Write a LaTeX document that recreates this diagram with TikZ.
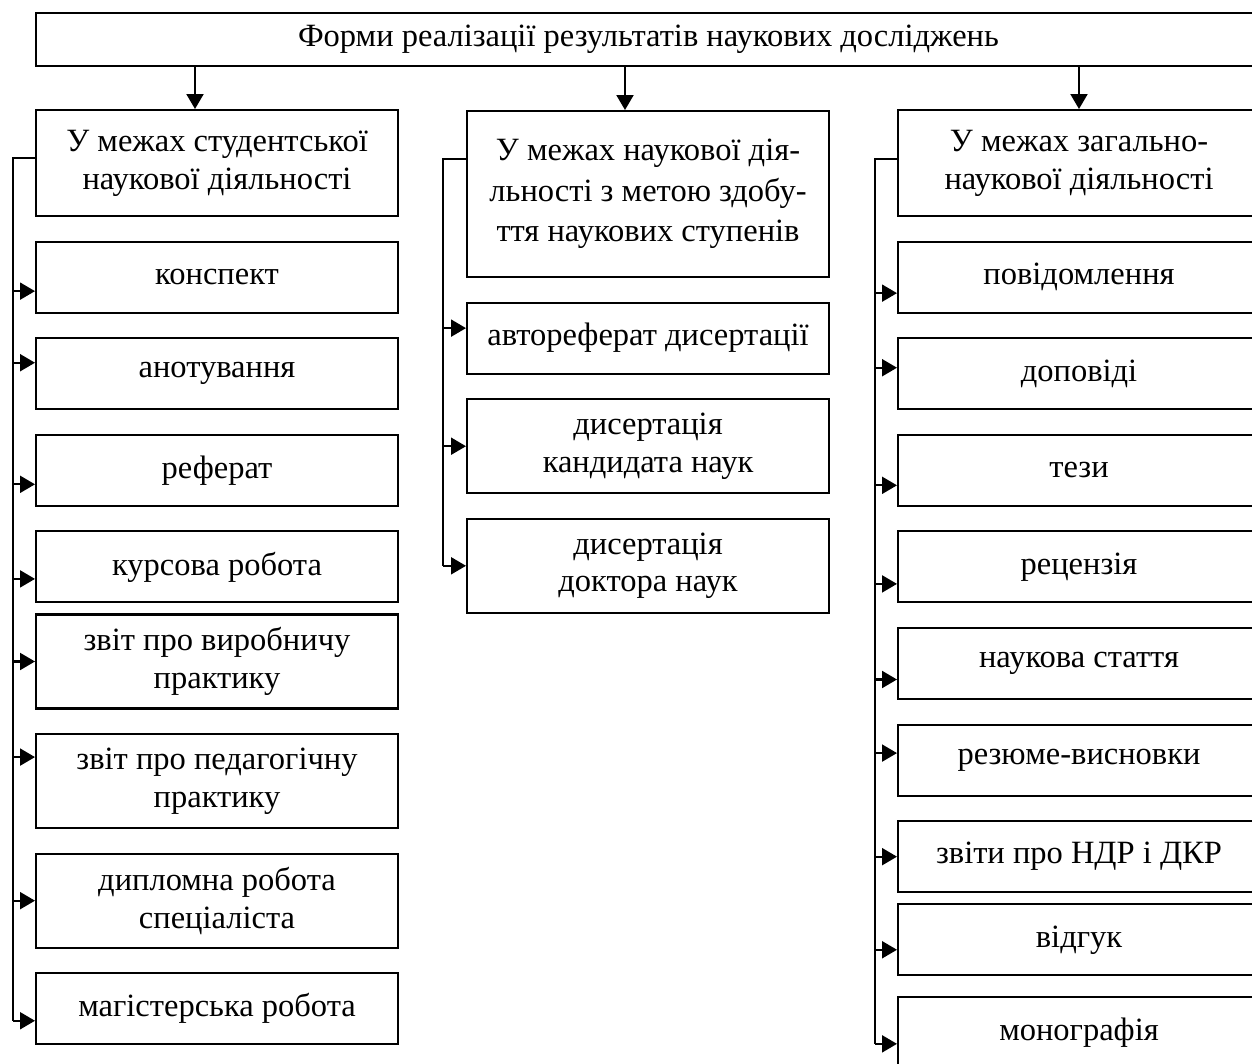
\documentclass[tikz,border=0pt]{standalone}
\usepackage{fontspec}
\setmainfont{Liberation Serif}
\usetikzlibrary{arrows.meta, positioning, calc}

\begin{document}
\begin{tikzpicture}[
        x=0.02cm, y=-0.02cm,
        node distance=0.47cm,
        box/.style={rectangle, draw, line width=1.2pt, minimum width=7.24cm, minimum height=1.42cm, align=center, inner sep=2pt, font=\fontsize{18.5}{21.5}\selectfont},
        tallbox/.style={box, minimum height=1.88cm},
        arrow/.style={-{Triangle[length=0.3cm, width=0.34cm]}, line width=1.2pt},
        spine/.style={line width=1.2pt}
    ]
    \useasboundingbox (0,0) rectangle (1252,1063);
    \clip (0,0) rectangle (1252,1063);

    \node[box, minimum width=24.5cm, minimum height=1.06cm, anchor=north west] (top) at (35,12) {Форми реалізації результатів наукових досліджень};

    % column heads
    \node[box, minimum height=2.12cm, anchor=north west] (student) at (35,109) {У межах студентської\\наукової діяльності};
    \node[box, minimum height=3.32cm, anchor=north west, font=\fontsize{18.5}{23}\selectfont] (degree) at (466,110) {У межах наукової дія-\\льності з метою здобу-\\ття наукових ступенів};
    \node[box, minimum height=2.12cm, anchor=north west] (general) at (897,109) {У межах загально-\\наукової діяльності};

    \coordinate (aL) at (195,0);
    \coordinate (aM) at (625,0);
    \coordinate (aR) at (1079,0);
    \draw[arrow] (top.south -| aL) -- (student.north -| aL);
    \draw[arrow] (top.south -| aM) -- (degree.north -| aM);
    \draw[arrow] (top.south -| aR) -- (general.north -| aR);

    % student column
    \node[box, below=of student] (konspekt) {конспект};
    \node[box, below=of konspekt] (anot) {анотування};
    \node[box, below=of anot] (referat) {реферат};
    \node[box, below=of referat] (kurs) {курсова робота};
    \node[tallbox, below=0.2cm of kurs] (vyrob) {звіт про виробничу\\практику};
    \node[tallbox, below=of vyrob] (ped) {звіт про педагогічну\\практику};
    \node[tallbox, below=of ped] (dyplom) {дипломна робота\\спеціаліста};
    \node[box, below=of dyplom] (magistr) {магістерська робота};

    % degree column
    \node[box, below=of degree] (avtoref) {автореферат дисертації};
    \node[tallbox, below=of avtoref] (kand) {дисертація\\кандидата наук};
    \node[tallbox, below=of kand] (doktor) {дисертація\\доктора наук};

    % general column
    \node[box, below=of general] (povid) {повідомлення};
    \node[box, below=of povid] (dopov) {доповіді};
    \node[box, below=of dopov] (tezy) {тези};
    \node[box, below=of tezy] (rec) {рецензія};
    \node[box, below=of rec] (stattya) {наукова стаття};
    \node[box, below=of stattya] (rezyume) {резюме-висновки};
    \node[box, below=of rezyume] (zvity) {звіти про НДР і ДКР};
    \node[box, below=0.2cm of zvity] (vidguk) {відгук};
    \node[box, below=0.4cm of vidguk] (monogr) {монографія};

    % spines
    \draw[spine] ($(student.west)+(0,-5)$) -- ++(-22,0) -- ($(magistr.west)+(-22,12)$);
    \draw[spine] ($(degree.west)+(0,-35)$) -- ++(-23,0) -- ($(doktor.west)+(-23,0)$);
    \draw[spine] ($(general.west)+(0,-4)$) -- ++(-22,0) -- ($(monogr.west)+(-22,11)$);

    \foreach \n/\d in {konspekt/14, anot/-11, referat/14, kurs/12, vyrob/0, ped/-24, dyplom/0, magistr/12}
        \draw[arrow] ($(\n.west)+(-22,\d)$) -- ($(\n.west)+(0,\d)$);
    \foreach \n/\d in {avtoref/-10, kand/0, doktor/0}
        \draw[arrow] ($(\n.west)+(-23,\d)$) -- ($(\n.west)+(0,\d)$);
    \foreach \n/\d in {povid/16, dopov/-6, tezy/15, rec/17, stattya/16, rezyume/-7, zvity/0, vidguk/10, monogr/11}
        \draw[arrow] ($(\n.west)+(-22,\d)$) -- ($(\n.west)+(0,\d)$);

\end{tikzpicture}
\end{document}
